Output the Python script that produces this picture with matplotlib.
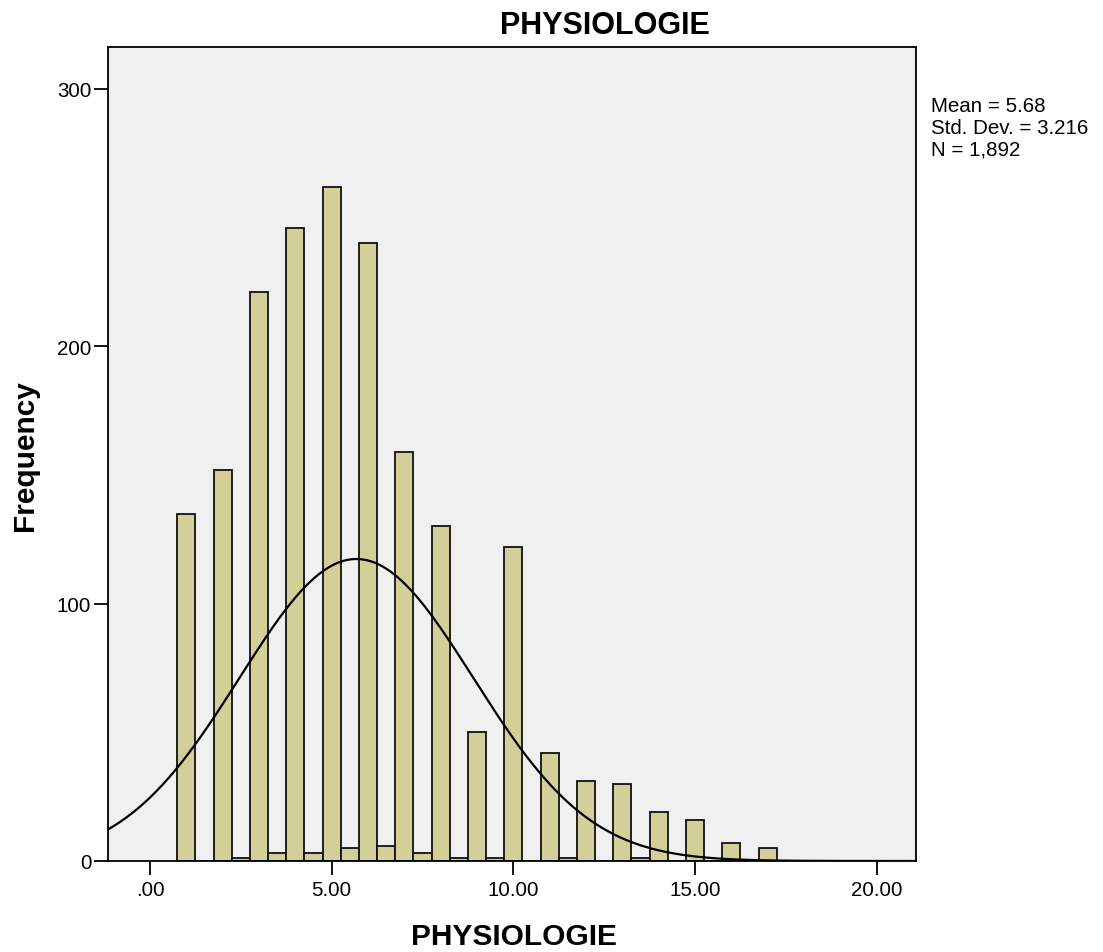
import numpy as np
import matplotlib
matplotlib.use("Agg")
import matplotlib.pyplot as plt

# ---- data ----
bin_centers = [1, 1.5, 2, 2.5, 3, 3.5, 4, 4.5, 5, 5.5, 6, 6.5, 7, 7.5, 8, 8.5,
               9, 9.5, 10, 10.5, 11, 11.5, 12, 12.5, 13, 13.5, 14, 14.5, 15,
               15.5, 16, 16.5, 17, 17.5, 18]
frequencies = [135, 0, 152, 1, 221, 3, 246, 3, 262, 5, 240, 6, 159, 3, 130, 1,
               50, 1, 122, 0, 42, 1, 31, 0, 30, 1, 19, 0, 16,
               0, 7, 0, 5, 0, 0]
bin_width = 0.5
mean_val = 5.68
std_val = 3.216
n_val = 1892
x_ticks = [0, 5, 10, 15, 20]
x_tick_labels = [".00", "5.00", "10.00", "15.00", "20.00"]
y_ticks = [0, 100, 200, 300]
y_tick_labels = ["0", "100", "200", "300"]
title = "PHYSIOLOGIE"
x_label = "PHYSIOLOGIE"
y_label = "Frequency"
stats_lines = ["Mean = 5.68", "Std. Dev. = 3.216", "N = 1,892"]

plt.rcParams['font.family'] = ['Liberation Sans', 'DejaVu Sans']

W, H = 1103, 953
fig = plt.figure(figsize=(W / 100, H / 100), dpi=100)
ax = fig.add_axes([108 / W, 1 - 862 / H, (916 - 108) / W, (862 - 48) / H])
ax.set_facecolor("#f0f0f0")

ax.bar(bin_centers, frequencies, width=bin_width, color="#d3cf98",
       edgecolor="#111111", linewidth=1.3, zorder=2)

xs = np.linspace(-1.2, 21.2, 500)
ys = n_val * bin_width / (std_val * np.sqrt(2 * np.pi)) * np.exp(-0.5 * ((xs - mean_val) / std_val) ** 2)
ax.plot(xs, ys, color="black", linewidth=1.6, zorder=3)

ax.set_xlim(-1.156, 21.08)
ax.set_ylim(0, 316.3)
ax.set_xticks(x_ticks)
ax.set_xticklabels(x_tick_labels)
ax.set_yticks(y_ticks)
ax.set_yticklabels(y_tick_labels)
ax.tick_params(axis="both", direction="out", length=10, width=1.3, labelsize=14.8,
               colors="black")
ax.tick_params(axis="x", pad=4)
ax.tick_params(axis="y", pad=2)
for s in ax.spines.values():
    s.set_linewidth(1.3)
    s.set_color("black")

fig.text(605 / W, 1 - 26 / H, title, ha="center", va="center",
         fontsize=22, fontweight="bold")
fig.text(514 / W, 1 - 937 / H, x_label, ha="center", va="center",
         fontsize=21.5, fontweight="bold")
fig.text(25 / W, 1 - 456 / H, y_label, ha="center", va="center",
         fontsize=21.5, fontweight="bold", rotation=90)

baselines = [111.5, 133.5, 155]
for line, b in zip(stats_lines, baselines):
    fig.text(931 / W, 1 - b / H, line, ha="left", va="baseline", fontsize=14.8)

fig.savefig("out.png", dpi=100)
